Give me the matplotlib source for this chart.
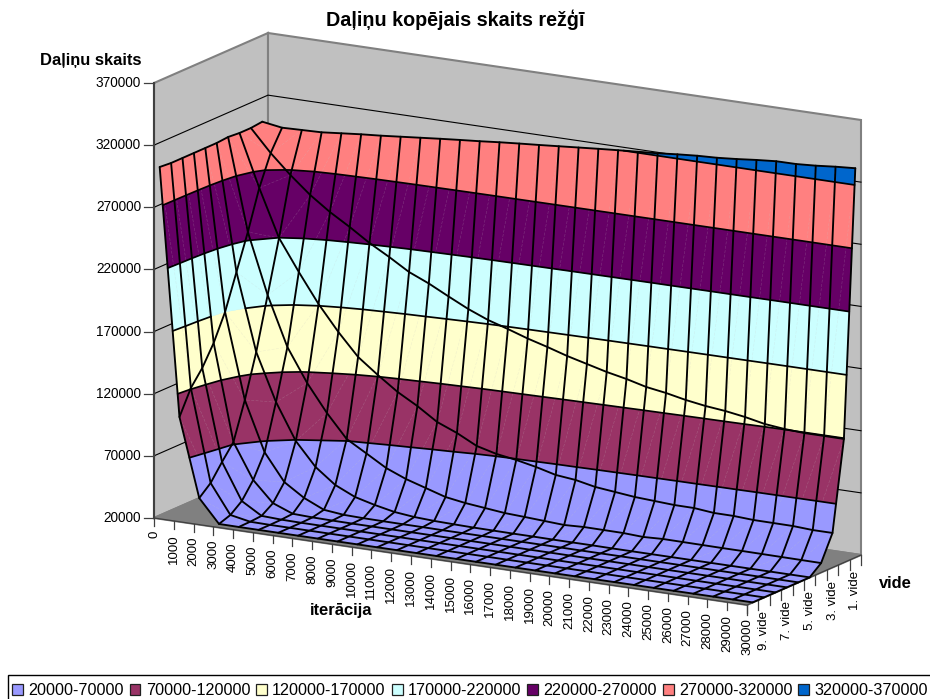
import numpy as np
import matplotlib
matplotlib.use('Agg')
import matplotlib.pyplot as plt
from matplotlib.collections import LineCollection, PolyCollection
from matplotlib.patches import Patch, Rectangle

plt.rcParams['font.family'] = ['Liberation Sans', 'DejaVu Sans']

iterations = list(range(0, 31000, 1000))
vide_labels = ['1. vide', '3. vide', '5. vide', '7. vide', '9. vide']
vide_label_pos = [0.95, 0.75, 0.55, 0.35, 0.15]
vide_positions = [0.95, 0.85, 0.75, 0.65, 0.55, 0.45, 0.35, 0.25, 0.15, 0.05]
band_edges = [20000, 70000, 120000, 170000, 220000, 270000, 320000, 370000]
band_colors = ['#9999FF', '#993366', '#FFFFCC', '#CCFFFF', '#660066', '#FF8080', '#0066CC']
band_labels = ['20000-70000', '70000-120000', '120000-170000', '170000-220000',
               '220000-270000', '270000-320000', '320000-370000']
z_ticks = [20000, 70000, 120000, 170000, 220000, 270000, 320000, 370000]

vide_1 = [300650, 298150, 298640, 299100, 300650, 302170, 303400, 304900, 306400, 307900, 309300,
          310600, 312100, 313400, 314600, 315900, 317200, 318500, 319700, 320800, 321900,
          323400, 324600, 325300, 326600, 328200, 329500, 329600, 330600, 332100, 333200]
vide_2 = [299600, 281800, 266400, 252700, 241300, 231600, 221100, 212100, 202400, 195500, 187400,
          179600, 173100, 168200, 162900, 158400, 153500, 149400, 145300, 142000, 137900,
          135400, 132100, 129600, 127900, 125400, 122100, 120400, 119500, 119500, 119400]
vide_3 = [299600, 257700, 219800, 194800, 171300, 151200, 133400, 121200, 109900, 100900, 90400,
          83900, 75800, 71700, 69200, 65900, 61800, 60100, 56800, 55100, 53400,
          52500, 51600, 51500, 49900, 49800, 48900, 48800, 48700, 47800, 47800]
vide_4 = [300400, 226300, 177900, 138400, 111800, 90000, 71400, 62100, 52700, 46200, 41300,
          36400, 33900, 32200, 30500, 29700, 28800, 27900, 28600, 28500, 28400,
          27600, 28300, 28200, 28100, 28000, 28000, 27900, 27800, 27700, 27600]
vide_5 = [299600, 198100, 136100, 98200, 69200, 50600, 38400, 31100, 27000, 23700, 22000,
          21200, 20800, 20500, 20400, 20300, 20300, 20200, 20200, 20200, 20100,
          20100, 20100, 20100, 20100, 20100, 20100, 20100, 20100, 20100, 20100]
vide_6 = [299600, 170000, 101500, 61800, 40100, 29700, 22500, 20800, 20400, 20300, 20200,
          20200, 20100, 20100, 20100, 20100, 20100, 20100, 20100, 20100, 20100,
          20100, 20100, 20100, 20100, 20100, 20100, 20100, 20100, 20100, 20100]
vide_7 = [299600, 149100, 71700, 43500, 27200, 21000, 20400, 20200, 20100, 20100, 20100,
          20100, 20100, 20100, 20100, 20100, 20100, 20100, 20100, 20100, 20100,
          20100, 20100, 20100, 20100, 20100, 20100, 20100, 20100, 20100, 20100]
vide_8 = [299600, 133000, 59700, 30600, 21000, 20300, 20100, 20100, 20100, 20100, 20100,
          20100, 20100, 20100, 20100, 20100, 20100, 20100, 20100, 20100, 20100,
          20100, 20100, 20100, 20100, 20100, 20100, 20100, 20100, 20100, 20100]
vide_9 = [299600, 120900, 46800, 23400, 20300, 20100, 20100, 20100, 20100, 20100, 20100,
          20100, 20100, 20100, 20100, 20100, 20100, 20100, 20100, 20100, 20100,
          20100, 20100, 20100, 20100, 20100, 20100, 20100, 20100, 20100, 20100]
vide_10 = [300400, 101600, 38700, 20200, 20100, 20100, 20100, 20100, 20100, 20100, 20100,
           20100, 20100, 20100, 20100, 20100, 20100, 20100, 20100, 20100, 20100,
           20100, 20100, 20100, 20100, 20100, 20100, 20100, 20100, 20100, 20100]

ORIGIN = (154.0, 518.0)
ITER_AXIS = (593.0, 87.0)
VIDE_AXIS = (114.0, -50.0)
Z_HEIGHT = 435.0


def project(iteration, vide, value):
    # oblique projection of chart units onto the page
    iter_frac = np.asarray(iteration) / 30000.0
    z_frac = (np.asarray(value) - 20000.0) / 350000.0
    x = ORIGIN[0] + ITER_AXIS[0] * iter_frac + VIDE_AXIS[0] * np.asarray(vide)
    y = ORIGIN[1] + ITER_AXIS[1] * iter_frac + VIDE_AXIS[1] * np.asarray(vide) - Z_HEIGHT * z_frac
    return x, y


def clip_band(pts, lo, hi):
    # cut a polygon (x, y, z rows) down to the part with lo <= z <= hi
    for limit, sign in ((lo, 1), (hi, -1)):
        out = []
        for k in range(len(pts)):
            a, b = pts[k], pts[(k + 1) % len(pts)]
            da, db = sign * (a[2] - limit), sign * (b[2] - limit)
            if da >= 0:
                out.append(a)
            if da * db < 0:
                out.append(a + (b - a) * da / (da - db))
        pts = out
        if not pts:
            return []
    return pts


def level_segments(quad, level):
    crossings = []
    for k in range(4):
        a, b = quad[k], quad[(k + 1) % 4]
        if (a[2] - level) * (b[2] - level) < 0:
            p = a + (b - a) * (level - a[2]) / (b[2] - a[2])
            crossings.append(p[:2])
    return [(crossings[n], crossings[n + 1]) for n in range(0, len(crossings) - 1, 2)]


values = np.array([vide_1, vide_2, vide_3, vide_4, vide_5, vide_6, vide_7, vide_8, vide_9, vide_10], dtype=float)
iter_grid, vide_grid = np.meshgrid(iterations, vide_positions)
sx, sy = project(iter_grid, vide_grid, values)
nodes = np.dstack([sx, sy, values])

fig = plt.figure(figsize=(9.3, 6.99), dpi=100)
ax = fig.add_axes([0, 0, 1, 1])
ax.set_xlim(0, 930)
ax.set_ylim(699, 0)
ax.axis('off')

# walls and floor
i_end = iterations[-1]
z_lo, z_hi = z_ticks[0], z_ticks[-1]
panes = [
    ([0, 0, 0, 0], [0, 1, 1, 0], [z_lo, z_lo, z_hi, z_hi], '#C0C0C0'),
    ([0, i_end, i_end, 0], [1, 1, 1, 1], [z_lo, z_lo, z_hi, z_hi], '#C0C0C0'),
    ([0, i_end, i_end, 0], [0, 0, 1, 1], [z_lo, z_lo, z_lo, z_lo], '#808080'),
]
for pane_i, pane_v, pane_z, color in panes:
    px, py = project(pane_i, pane_v, pane_z)
    ax.fill(px, py, facecolor=color, edgecolor='#808080', linewidth=1.5, zorder=1)

for tick in z_ticks[1:-1]:
    gx, gy = project([0, 0, i_end], [0, 1, 1], [tick, tick, tick])
    ax.plot(gx, gy, color='black', linewidth=0.8, zorder=2)

# axis lines and ticks
ax_x, ax_y = project([0, 0], [0, 0], [z_lo, z_hi])
ax.plot(ax_x, ax_y, color='#404040', linewidth=1.5, zorder=3)
ax_x, ax_y = project([0, i_end, i_end], [0, 0, 1], [z_lo, z_lo, z_lo])
ax.plot(ax_x, ax_y, color='#404040', linewidth=0.9, zorder=3)

for tick in z_ticks:
    tx, ty = project(0, 0, tick)
    ax.plot([tx - 10, tx], [ty, ty], color='#404040', linewidth=0.9, zorder=3)
    ax.text(tx - 13, ty, str(tick), ha='right', va='center', fontsize=9.8)

for it in iterations:
    tx, ty = project(it, 0, z_lo)
    ax.plot([tx, tx], [ty, ty + 8], color='#404040', linewidth=0.9, zorder=3)
    ax.text(tx, ty + 13, str(it), rotation=90, ha='center', va='top', fontsize=9.5)

for k in range(11):
    tx, ty = project(i_end, k / 10, z_lo)
    ax.plot([tx, tx], [ty, ty + 10], color='#404040', linewidth=0.9, zorder=3)

for label, pos in zip(vide_labels, vide_label_pos):
    tx, ty = project(i_end, pos, z_lo)
    ax.text(tx, ty + 13, label, rotation=90, ha='center', va='top', fontsize=9.5)

# surface: every cell is cut along the band limits, back rows first
polys, colors, seams, level_lines = [], [], [], []
for s in range(values.shape[0] - 1):
    for i in range(values.shape[1] - 1):
        quad = [nodes[s, i], nodes[s, i + 1], nodes[s + 1, i + 1], nodes[s + 1, i]]
        for b, color in enumerate(band_colors):
            piece = clip_band(quad, band_edges[b], band_edges[b + 1])
            if len(piece) >= 3:
                polys.append(np.array(piece)[:, :2])
                colors.append(color)
        seams.append([nodes[s, i + 1][:2], nodes[s + 1, i][:2]])
        for level in band_edges[1:-1]:
            level_lines.extend(level_segments(quad, level))

ax.add_collection(PolyCollection(polys, facecolors=colors, edgecolors=colors, linewidths=0.3, zorder=4))
ax.add_collection(LineCollection(seams, colors='#C8C8C8', linewidths=0.35, alpha=0.3,
                                 linestyles=(0, (6, 3)), zorder=5))
ax.add_collection(LineCollection(level_lines, colors='black', linewidths=1.25, capstyle='round', zorder=6))

grid_lines = [nodes[s, :, :2] for s in range(values.shape[0])]
grid_lines += [nodes[:, i, :2] for i in range(values.shape[1])]
ax.add_collection(LineCollection(grid_lines, colors='black', linewidths=1.35, capstyle='round',
                                 joinstyle='round', zorder=7))

# titles
ax.text(455, 20, 'Daļiņu kopējais skaits režģī', ha='center', va='center', fontsize=14.2, fontweight='bold')
ax.text(141, 61, 'Daļiņu skaits', ha='right', va='center', fontsize=11.9, fontweight='bold')
ax.text(341, 610, 'iterācija', ha='center', va='center', fontsize=11.9, fontweight='bold')
ax.text(895, 583, 'vide', ha='center', va='center', fontsize=11.9, fontweight='bold')

# legend box runs off the page on the right and at the bottom
ax.add_patch(Rectangle((8, 675), 940, 40, facecolor='white', edgecolor='black', linewidth=1.0, zorder=8))
handles = [Patch(facecolor=c, edgecolor='#202020', linewidth=0.9) for c in band_colors]
leg = ax.legend(handles, band_labels, ncol=7, loc='upper left', bbox_to_anchor=(5.2 / 930, 1 - 676 / 699),
                borderaxespad=0, borderpad=0.42, fontsize=11.6, frameon=False,
                handlelength=0.68, handleheight=0.68, handletextpad=0.32,
                columnspacing=0.37, labelspacing=0)
leg.set_zorder(9)

fig.savefig('out.png', dpi=100)
